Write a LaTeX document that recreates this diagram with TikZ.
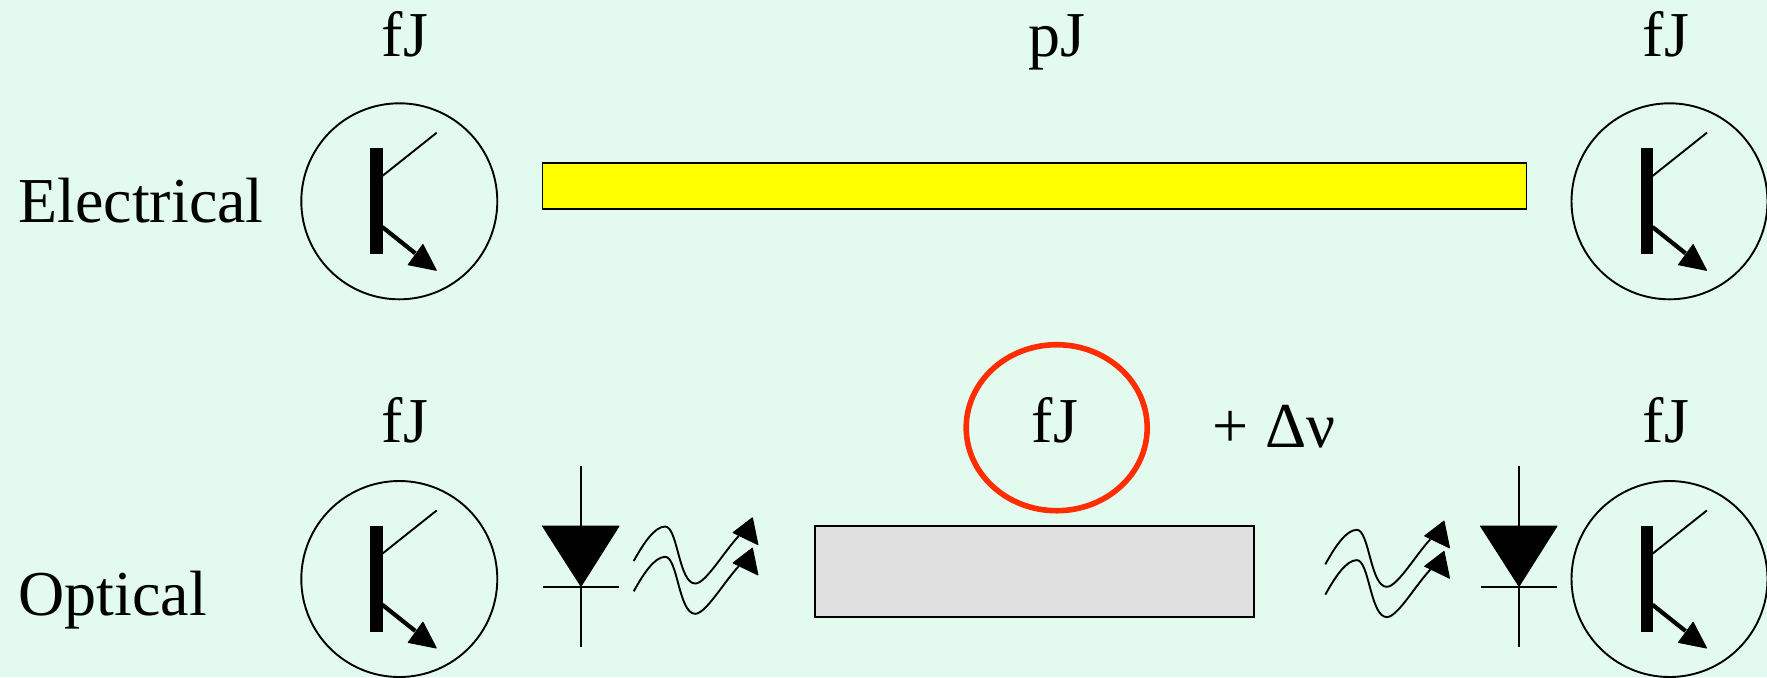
\documentclass[tikz,border=0pt]{standalone}
\usepackage{fontspec}
\usetikzlibrary{shapes.geometric}
\setmainfont{Liberation Serif}
\definecolor{bgmint}{RGB}{226,251,238}
\definecolor{wireyellow}{RGB}{255,255,0}
\definecolor{guidegray}{RGB}{224,224,224}
\definecolor{ringred}{RGB}{255,45,0}
\tikzset{
  px/.style={x=0.5pt,y=-0.5pt},
  txt/.style={inner sep=0pt,anchor=base,font=\fontsize{32}{36}\selectfont,text=black},
  box/.style={draw=black,line width=0.95pt,inner sep=0pt},
  wireline/.style={draw=black,line width=0.95pt},
  head/.style={fill=black,draw=black,line width=0.5pt,line join=round},
}
\newcommand{\transistor}[3]{%
  \begin{scope}[shift={(#1,#2)}]
    \node[circle,wireline,minimum size=98pt,inner sep=0pt] (#3) at (0,0) {};
    \fill[black] (-29,-53) rectangle (-16.6,53);
    \coordinate (#3c) at (-17,-25.3);
    \coordinate (#3ce) at (37.4,-68.6);
    \coordinate (#3e) at (-17,25.7);
    \coordinate (#3et) at (37,69);
    \draw[wireline] (#3c) -- (#3ce);
    \draw[line width=2.1pt] (#3e) -- (16,52);
    \path[head] (#3et) -- (9,63.4) -- (23.6,43.2) -- cycle;
  \end{scope}}
\newcommand{\photodiode}[3]{%
  \begin{scope}[shift={(#1,#2)}]
    \path[head] (-38.5,-60.7) -- (38,-60.7) -- (0,-0.5) -- cycle;
    \coordinate (#3t) at (0,-120.7);
    \coordinate (#3b) at (0,60.3);
    \coordinate (#3l) at (-38,0);
    \coordinate (#3r) at (37.7,0);
    \draw[wireline] (#3t) -- (#3b);
    \draw[wireline] (#3l) -- (#3r);
  \end{scope}}
\newcommand{\wavearrow}[2]{%
  \begin{scope}[shift={(#1,#2)}]
    \draw[wireline] (0,0) .. controls (10,-18) and (21,-34.5) .. (31.5,-34.5)
      .. controls (44,-34.5) and (45,22.5) .. (61.5,22.5)
      .. controls (72,22.5) and (90,-9) .. (105,-25);
    \path[head] (124.2,-16.4) -- (99.4,-28.4) -- (118.7,-43.2) -- cycle;
  \end{scope}}
\begin{document}
\begin{tikzpicture}[px]
\useasboundingbox (0,0) rectangle (1767,677);
\fill[bgmint] (0,0) rectangle (1767,677);
\transistor{399.3}{201.3}{tA}
\transistor{1669.5}{201.3}{tB}
\transistor{399.3}{579}{tC}
\transistor{1669.5}{579}{tD}
\node[box,fill=wireyellow,minimum width=492pt,minimum height=23pt] (wire) at (1034.5,186) {};
\node[box,fill=guidegray,minimum width=219.5pt,minimum height=45.5pt] (guide) at (1034.5,571.5) {};
\node[ellipse,draw=ringred,line width=2.8pt,minimum width=90.5pt,minimum height=83pt,inner sep=0pt] (ring) at (1056.7,427.7) {};
\photodiode{581}{586.7}{dA}
\photodiode{1519}{586.7}{dB}
\wavearrow{633.7}{561}
\wavearrow{633.7}{591.3}
\wavearrow{1325.3}{564.3}
\wavearrow{1325.3}{594.6}
\node[txt] (l1) at (405,56) {fJ};
\node[txt] (l2) at (1057,56) {pJ};
\node[txt] (l3) at (1666,56) {fJ};
\node[txt] (l4) at (405,442) {fJ};
\node[txt] (l5) at (1055,442) {fJ};
\node[txt] (l6) at (1274,447) {+ Δν};
\node[txt] (l7) at (1666,442) {fJ};
\node[txt,anchor=base west] (l8) at (18,222) {Electrical};
\node[txt,anchor=base west] (l9) at (18,615) {Optical};
\end{tikzpicture}
\end{document}
